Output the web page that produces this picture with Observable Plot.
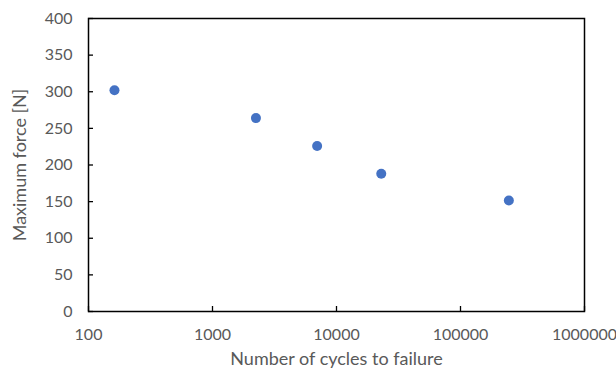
<!DOCTYPE html>
<html><head><meta charset="utf-8">
<script src="https://cdn.jsdelivr.net/npm/d3@7"></script>
<script src="https://cdn.jsdelivr.net/npm/@observablehq/plot@0.6"></script>
<style>body{margin:0;background:#fff;} svg{display:block;}</style>
</head><body><div id="chart"></div>
<script>
const cycles = [162, 2240, 6980, 22960, 245500];
const force = [302, 264, 226, 188, 151.5];
const xTicks = [100, 1000, 10000, 100000, 1000000];
const yTicks = [0, 50, 100, 150, 200, 250, 300, 350, 400];
const xTitle = "Number of cycles to failure";
const yTitle = "Maximum force [N]";
const data = cycles.map((c, i) => ({cycles: c, force: force[i]}));
const gray = "#595959";
const chart = Plot.plot({
  width: 616, height: 374,
  marginLeft: 88, marginRight: 32, marginTop: 18, marginBottom: 63,
  style: {fontFamily: "Lato, 'Open Sans', sans-serif", fontSize: "16px", background: "#fff", overflow: "visible"},
  x: {type: "log", domain: [100, 1000000]},
  y: {domain: [0, 400]},
  marks: [
    Plot.axisX({ticks: xTicks, tickSize: 0, tickPadding: 17, tickFormat: d3.format("d"), fill: gray, label: null}),
    Plot.axisX({ticks: xTicks, tickSize: 5, dy: -5, text: null, label: null, stroke: "#000", strokeWidth: 1.3}),
    Plot.axisY({ticks: yTicks, tickSize: 0, tickPadding: 16, fill: gray, label: null}),
    Plot.axisY({ticks: yTicks, tickSize: 5, dx: 5, text: null, label: null, stroke: "#000", strokeWidth: 1.3}),
    Plot.text([xTitle], {frameAnchor: "bottom", dy: 53, text: d => d, fill: gray, fontSize: 18}),
    Plot.text([yTitle], {frameAnchor: "left", textAnchor: "middle", dx: -68, rotate: -90, text: d => d, fill: gray, fontSize: 18}),
    Plot.frame({stroke: "#000", strokeWidth: 1.5}),
    Plot.dot(data, {x: "cycles", y: "force", r: 5, fill: "#4472C4", stroke: "none"})
  ]
});
document.getElementById("chart").appendChild(chart);
</script></body></html>
